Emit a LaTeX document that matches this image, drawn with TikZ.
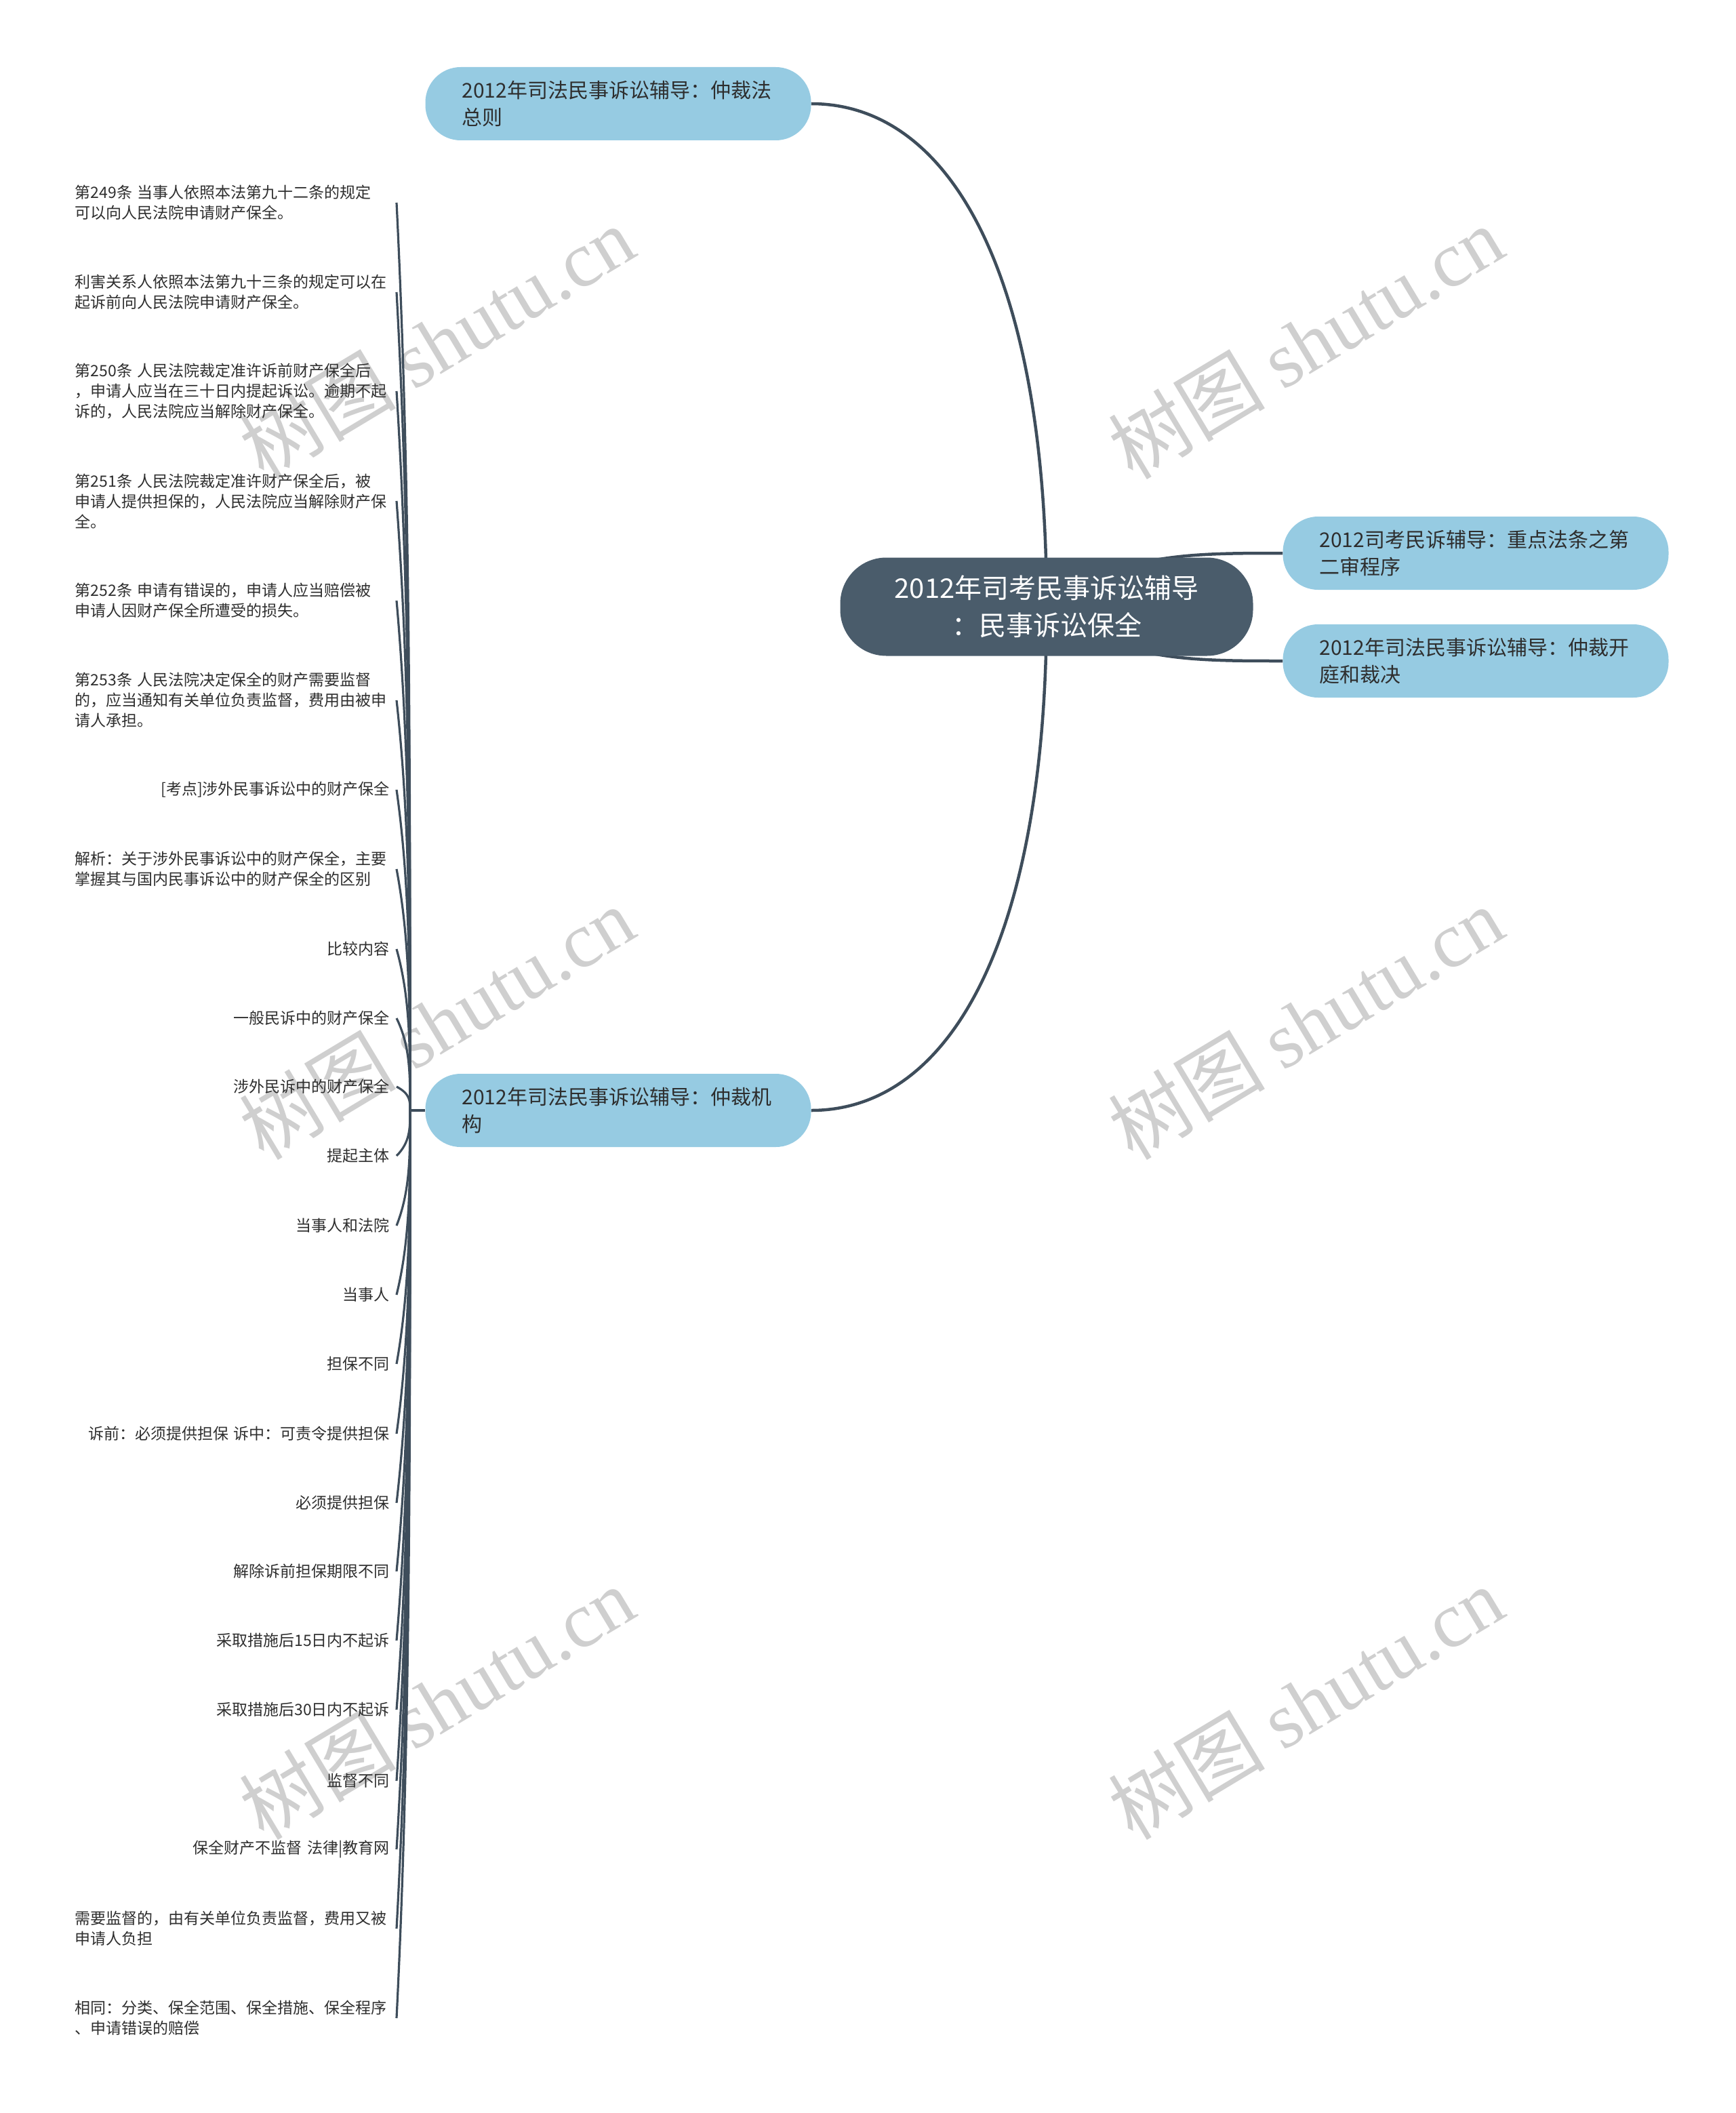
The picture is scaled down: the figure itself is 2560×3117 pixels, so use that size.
\documentclass[tikz,border=0pt]{standalone}
\usepackage{fontspec}
\setmainfont{Noto Sans CJK SC}
\newfontfamily\wmserif{Liberation Serif}
\usetikzlibrary{calc,backgrounds}
\definecolor{centralfill}{HTML}{4A5C6B}
\definecolor{branchfill}{HTML}{96CBE2}
\definecolor{linecol}{HTML}{3E4D5B}
\definecolor{textcol}{HTML}{2E2E2E}
\definecolor{wmcol}{HTML}{CFCFCF}
\newcommand{\leaffont}{\fontsize{23}{30}\selectfont}
\newcommand{\branchfont}{\fontsize{30}{40}\selectfont}
\newcommand{\centralfont}{\fontsize{40}{55}\selectfont}
\newcommand{\wmfont}{\fontsize{116}{120}\selectfont}
\tikzset{
  centralbox/.style={fill=centralfill, text=white, font=\centralfont, rounded corners=68,
    text width=449, inner xsep=80, inner ysep=10, minimum height=145, align=center},
  branchbox/.style={fill=branchfill, text=textcol, font=\branchfont, rounded corners=52,
    text width=461, inner xsep=54, inner ysep=10, minimum height=108, align=left},
  leafl/.style={font=\leaffont, text=textcol, anchor=east, text width=464, inner xsep=10, inner ysep=3, align=left},
  leafr/.style={leafl, align=right},
  mainline/.style={draw=linecol, line width=4.5},
  leafline/.style={draw=linecol, line width=3.2},
  watermark/.style={text=wmcol, font=\wmfont, rotate=31, inner sep=0}
}
\begin{document}
\begin{tikzpicture}[x=1pt,y=-1pt]
\useasboundingbox (0,0) rectangle (2560,3117);
% central and branches
\node[centralbox] (C) at (1544,895) {2012年司考民事诉讼辅导\\：民事诉讼保全};
\node[branchbox] (B1) at (912,153) {2012年司法民事诉讼辅导：仲裁法\\总则};
\node[branchbox] (B2) at (2177,816) {2012司考民诉辅导：重点法条之第\\二审程序};
\node[branchbox] (B3) at (2177,975) {2012年司法民事诉讼辅导：仲裁开\\庭和裁决};
\node[branchbox] (B4) at (912,1638) {2012年司法民事诉讼辅导：仲裁机\\构};
\coordinate (J) at (605,1638);
% leaves
\node[leafl] (c1) at (585,299) {第249条 当事人依照本法第九十二条的规定\\可以向人民法院申请财产保全。};
\node[leafl] (c2) at (585,431) {利害关系人依照本法第九十三条的规定可以在\\起诉前向人民法院申请财产保全。};
\node[leafl] (c3) at (585,577) {第250条 人民法院裁定准许诉前财产保全后\\，申请人应当在三十日内提起诉讼。逾期不起\\诉的，人民法院应当解除财产保全。};
\node[leafl] (c4) at (585,739) {第251条 人民法院裁定准许财产保全后，被\\申请人提供担保的，人民法院应当解除财产保\\全。};
\node[leafl] (c5) at (585,886) {第252条 申请有错误的，申请人应当赔偿被\\申请人因财产保全所遭受的损失。};
\node[leafl] (c6) at (585,1033) {第253条 人民法院决定保全的财产需要监督\\的，应当通知有关单位负责监督，费用由被申\\请人承担。};
\node[leafr] (c7) at (585,1165) {[考点]涉外民事诉讼中的财产保全};
\node[leafl] (c8) at (585,1282) {解析：关于涉外民事诉讼中的财产保全，主要\\掌握其与国内民事诉讼中的财产保全的区别};
\node[leafr] (c9) at (585,1400) {比较内容};
\node[leafr] (c10) at (585,1502) {一般民诉中的财产保全};
\node[leafr] (c11) at (585,1603) {涉外民诉中的财产保全};
\node[leafr] (c12) at (585,1705) {提起主体};
\node[leafr] (c13) at (585,1808) {当事人和法院};
\node[leafr] (c14) at (585,1910) {当事人};
\node[leafr] (c15) at (585,2012) {担保不同};
\node[leafr] (c16) at (585,2115) {诉前：必须提供担保 诉中：可责令提供担保};
\node[leafr] (c17) at (585,2217) {必须提供担保};
\node[leafr] (c18) at (585,2318) {解除诉前担保期限不同};
\node[leafr] (c19) at (585,2420) {采取措施后15日内不起诉};
\node[leafr] (c20) at (585,2522) {采取措施后30日内不起诉};
\node[leafr] (c21) at (585,2627) {监督不同};
\node[leafr] (c22) at (585,2728) {保全财产不监督 法律|教育网};
\node[leafl] (c23) at (585,2845) {需要监督的，由有关单位负责监督，费用又被\\申请人负担};
\node[leafl] (c24) at (585,2977) {相同：分类、保全范围、保全措施、保全程序\\、申请错误的赔偿};
\begin{scope}[on background layer]
  % watermarks
  \foreach \wx/\wy [count=\wi] in {644/505,1926/505,644/1509,1926/1509,644/2512,1926/2512}
    \node[watermark] (wm\wi) at (\wx,\wy) {树图 {\wmserif shutu.cn}};
  % main connectors
  \draw[mainline] (B1.east) .. controls +(203,0) and ($(C.center)+(0,-495)$) .. (C.center);
  \draw[mainline] (B4.east) .. controls +(203,0) and ($(C.center)+(0,495)$) .. (C.center);
  \draw[mainline] (C.center) .. controls +(106,-79) and +(-140,0) .. (B2.west);
  \draw[mainline] (C.center) .. controls +(106,80) and +(-140,0) .. (B3.west);
  \draw[mainline] (B4.west) -- (J);
  % leaf connectors
  \foreach \k in {1,...,24}
    \draw[leafline] (c\k.east) .. controls ($(J|-c\k.east)!0.3!(J)$) and ($(J|-c\k.east)!0.6!(J)$) .. (J);
\end{scope}
\end{tikzpicture}
\end{document}
